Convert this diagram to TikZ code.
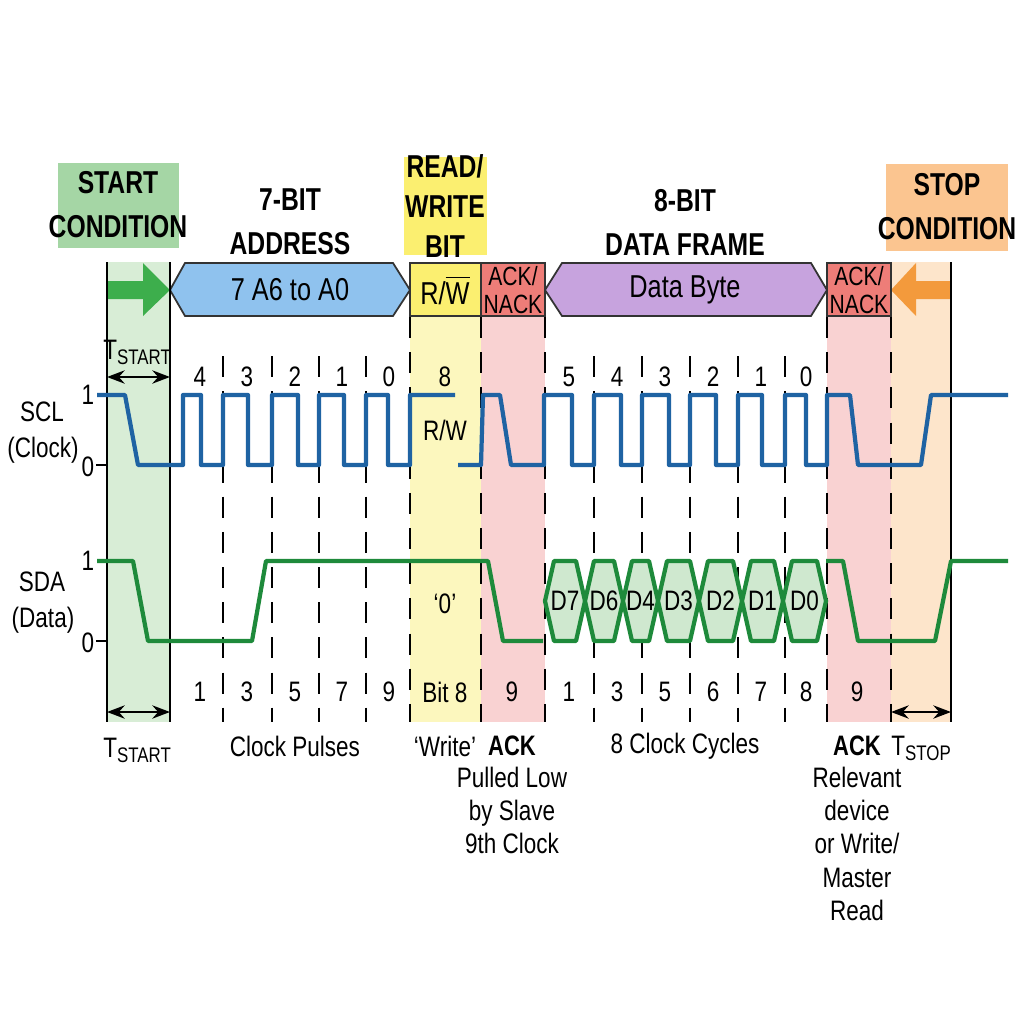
\documentclass[tikz,border=0pt]{standalone}
\usepackage{fontspec}
\setmainfont{Liberation Sans}[FakeStretch=0.8,BoldFeatures={FakeStretch=0.78}]
\usetikzlibrary{arrows.meta}
\definecolor{gband}{HTML}{D8EDD6}
\definecolor{gbox}{HTML}{A5D6A5}
\definecolor{yband}{HTML}{FCF7BE}
\definecolor{ybox}{HTML}{FBEF70}
\definecolor{rband}{HTML}{F9D2D2}
\definecolor{rbox}{HTML}{EE7D78}
\definecolor{oband}{HTML}{FDE5CB}
\definecolor{obox}{HTML}{FBC590}
\definecolor{bhex}{HTML}{8FC2EE}
\definecolor{phex}{HTML}{C7A3DE}
\definecolor{sclc}{HTML}{1F63A3}
\definecolor{sdac}{HTML}{1E8A3B}
\definecolor{garr}{HTML}{3DAE4C}
\definecolor{oarr}{HTML}{F39A3C}
\definecolor{eyef}{HTML}{CFE8CF}
\tikzset{
  x=0.01cm,y=-0.01cm,
  hdr/.style={font=\fontsize{9}{10.5}\selectfont\bfseries,align=center,inner sep=0pt},
  lbl/.style={font=\fontsize{8}{9.5}\selectfont,align=center,inner sep=0pt},
  num/.style={font=\fontsize{8}{9.5}\selectfont,inner sep=0pt},
  dline/.style={black,line width=0.6pt,dash pattern=on 6pt off 4pt},
  sline/.style={black,line width=0.8pt},
  wave/.style={line width=1.2pt,line join=round},
  dim/.style={line width=0.8pt,{Stealth[length=5pt]}-{Stealth[length=5pt]}},
  boxb/.style={draw=black!80,line width=0.5pt}
}
\begin{document}
\begin{tikzpicture}
\useasboundingbox (0,0) rectangle (1024,1024);
% bands
\fill[gband] (107,262) rectangle (170,722);
\fill[yband] (410,262) rectangle (481,722);
\fill[rband] (481,262) rectangle (545,722);
\fill[rband] (827,262) rectangle (891,722);
\fill[oband] (891,262) rectangle (951,722);
% header boxes
\fill[gbox] (58,163) rectangle (179,248);
\node[hdr] (hstart) at (118,205) {START\\[2pt]CONDITION};
\fill[ybox] (404,157) rectangle (487,255);
\node[hdr] (hrw) at (445,206) {READ/\\[1pt]WRITE\\[1pt]BIT};
\fill[obox] (886,164) rectangle (1008,251);
\node[hdr] (hstop) at (947,207) {STOP\\[2pt]CONDITION};
\node[hdr] (haddr) at (290,222) {7-BIT\\[2pt]ADDRESS};
\node[hdr] (hdata) at (685,222) {8-BIT\\[2pt]DATA FRAME};
% bar row
\fill[garr] (107,281) -- (143,281) -- (143,263) -- (170,290) -- (143,316) -- (143,299) -- (107,299) -- cycle;
\fill[oarr] (951,281) -- (916,281) -- (916,263) -- (891,290) -- (916,316) -- (916,299) -- (951,299) -- cycle;
\draw[boxb,fill=bhex] (170,290) -- (185,263) -- (393,263) -- (410,290) -- (393,316) -- (185,316) -- cycle;
\node[lbl] (addrtxt) at (290,290) {\fontsize{9}{10}\selectfont 7 A6 to A0};
\draw[boxb,fill=phex] (545,290) -- (562,263) -- (811,263) -- (827,290) -- (811,316) -- (562,316) -- cycle;
\node[lbl] (datatxt) at (685,290) {\fontsize{9}{10}\selectfont Data Byte};
\draw[boxb,fill=ybox] (410,263) rectangle (481,316);
\node[lbl] (rwtxt) at (445,290) {\fontsize{9}{10}\selectfont R/$\overline{\mbox{W}}$};
\draw[boxb,fill=rbox] (481,263) rectangle (545,316);
\node[lbl,font=\fontsize{7.5}{8}\selectfont] (ack1) at (513,290) {ACK/\\NACK};
\draw[boxb,fill=rbox] (827,263) rectangle (891,316);
\node[lbl,font=\fontsize{7.5}{8}\selectfont] (ack2) at (859,290) {ACK/\\NACK};
% vertical lines
\foreach \x in {107,170,951} \draw[sline] (\x,262) -- (\x,722);
\foreach \x in {410,481,545,827,891} \draw[dline] (\x,317) -- (\x,722);
\foreach \x in {223,272,319,366,594,642,690,738,785} \draw[dline] (\x,356) -- (\x,722);
% level labels
\node[num] (scl) at (42,412) {SCL};
\node[num] (sclc) at (43,450) {(Clock)};
\node[num] (sda) at (42,582) {SDA};
\node[num] (sdad) at (43,620) {(Data)};
\node[num] (s1) at (88,395) {1};
\node[num] (s0) at (88,467) {0};
\node[num] (d1) at (88,561) {1};
\node[num] (d0) at (88,643) {0};
\draw[line width=0.6pt] (96,465) -- (107,465);
\draw[line width=0.6pt] (96,641) -- (107,641);
% SCL
\draw[wave,sclc] (97,395) -- (125,395) -- (138,465) -- (183,465) -- (183,395) -- (201,395) -- (201,465) -- (223,465) -- (223,395) -- (248,395) -- (248,465) -- (272,465) -- (272,395) -- (298,395) -- (298,465) -- (319,465) -- (319,395) -- (344,395) -- (344,465) -- (366,465) -- (366,395) -- (388,395) -- (388,465) -- (410,465) -- (410,395) -- (455,395);
\draw[wave,sclc] (458,465) -- (481,465) -- (483,395) -- (500,395) -- (511,465) -- (544,465) -- (544,395) -- (572,395) -- (572,465) -- (594,465) -- (594,395) -- (621,395) -- (621,465) -- (642,465) -- (642,395) -- (669,395) -- (669,465) -- (690,465) -- (690,395) -- (716,395) -- (716,465) -- (738,465) -- (738,395) -- (762,395) -- (762,465) -- (785,465) -- (785,395) -- (806,395) -- (806,465) -- (827,465) -- (827,395) -- (850,395) -- (858,465) -- (921,465) -- (931,395) -- (1008,395);
\foreach \n/\x in {4/200,3/247,2/295,1/342,0/389,8/445,5/569,4/617,3/665,2/713,1/761,0/806}
  \node[num] at (\x,377) {\n};
\node[lbl] (rwl) at (445,430) {R/W};
% SDA
\draw[wave,sdac] (97,561) -- (133,561) -- (148,641) -- (252,641) -- (266,561) -- (488,561) -- (503,641) -- (543,641);
\foreach \a/\b/\t in {545/585/D7,585/623/D6,623/658/D4,658/699/D3,699/742/D2,742/783/D1,783/826/D0}{
  \draw[wave,sdac,fill=eyef] (\a,601) -- (\a+9,561) -- (\b-9,561) -- (\b,601) -- (\b-9,641) -- (\a+9,641) -- cycle;
  \node[num] at ({(\a+\b)/2},601) {\t};
}
\draw[wave,sdac] (826,561) -- (843,561) -- (858,641) -- (935,641) -- (951,561) -- (1008,561);
\node[lbl] (zero) at (445,604) {`0'};
\foreach \n/\x in {1/200,3/247,5/295,7/342,9/389,Bit 8/445,9/512,1/569,3/617,5/665,6/713,7/761,8/806,9/857}
  \node[num] at (\x,692) {\n};
% dimension arrows
\coordinate (ts1) at (107,377); \coordinate (ts2) at (170,377);
\draw[dim] (ts1) -- (ts2);
\node[lbl] (tstart) at (138,352) {T\textsubscript{START}};
\coordinate (tb1) at (107,712); \coordinate (tb2) at (170,712);
\draw[dim] (tb1) -- (tb2);
\node[lbl] (tstartb) at (138,750) {T\textsubscript{START}};
\coordinate (tp1) at (891,712); \coordinate (tp2) at (951,712);
\draw[dim] (tp1) -- (tp2);
\node[lbl] (tstop) at (922,748) {T\textsubscript{STOP}};
% bottom texts
\node[lbl] (cp) at (295,746) {Clock Pulses};
\node[lbl] (wr) at (445,746) {`Write'};
\node[lbl,font=\fontsize{8}{9.5}\selectfont\bfseries] (acka) at (512,746) {ACK};
\node[lbl,anchor=north] (ackat) at (512,766) {Pulled Low\\[0pt]by Slave\\9th Clock};
\node[lbl] (cc) at (685,746) {8 Clock Cycles};
\node[lbl,font=\fontsize{8}{9.5}\selectfont\bfseries] (ackb) at (857,746) {ACK};
\node[lbl,anchor=north] (ackbt) at (857,766) {Relevant\\device\\or Write/\\Master\\Read};
\end{tikzpicture}
\end{document}
